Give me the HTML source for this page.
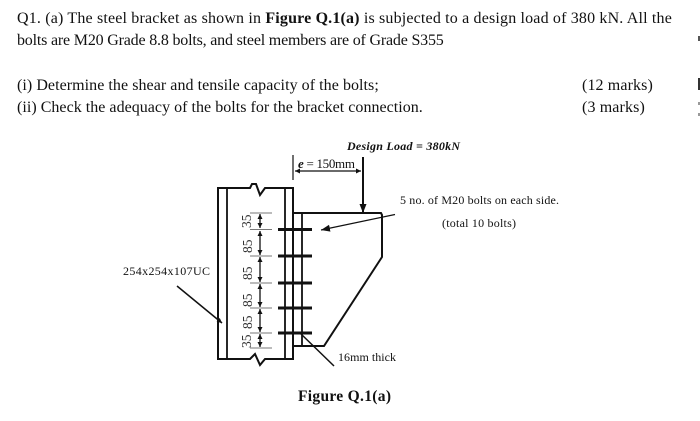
<!DOCTYPE html>
<html>
<head>
<meta charset="utf-8">
<style>
html,body{margin:0;padding:0;background:#fff;}
svg{display:block;filter:blur(0.3px);}
text{font-family:"Liberation Serif",serif;fill:#111;}
.q{font-size:16px;letter-spacing:0.2px;}
.s{font-size:12px;}
.n{font-size:13.500px;fill:#333;}
</style>
</head>
<body>
<svg width="700" height="421" viewBox="0 0 700 421" xmlns="http://www.w3.org/2000/svg">
<defs>
<marker id="a" markerWidth="6" markerHeight="6" refX="5" refY="2.500" orient="auto-start-reverse" markerUnits="userSpaceOnUse"><path d="M0 0L5 2.500L0 5Z" fill="#111"/></marker>
<marker id="b" markerWidth="10" markerHeight="8" refX="9" refY="3.500" orient="auto" markerUnits="userSpaceOnUse"><path d="M0 0L9 3.500L0 7Z" fill="#111"/></marker>
</defs>
<rect width="700" height="421" fill="#fff"/>

<text class="q" x="17" y="23" textLength="655" lengthAdjust="spacing">Q1. (a) The steel bracket as shown in <tspan font-weight="bold">Figure Q.1(a)</tspan> is subjected to a design load of 380 kN. All the</text>
<text class="q" x="17" y="45" textLength="427" lengthAdjust="spacing">bolts are M20 Grade 8.8 bolts, and steel members are of Grade S355</text>
<text class="q" x="17" y="90" textLength="362" lengthAdjust="spacing">(i) Determine the shear and tensile capacity of the bolts;</text>
<text class="q" x="17" y="112" textLength="406" lengthAdjust="spacing">(ii) Check the adequacy of the bolts for the bracket connection.</text>
<text class="q" x="582" y="90" textLength="71" lengthAdjust="spacing">(12 marks)</text>
<text class="q" x="582" y="112" textLength="63" lengthAdjust="spacing">(3 marks)</text>

<rect x="698" y="36" width="2" height="5" fill="#555"/>
<rect x="698" y="78" width="2" height="12" fill="#333"/>
<rect x="698" y="102" width="2" height="3" fill="#999"/>
<rect x="698" y="113" width="2" height="3" fill="#999"/>

<text x="347" y="150" font-size="12" font-weight="bold" font-style="italic" textLength="113" lengthAdjust="spacing">Design Load = 380kN</text>
<text x="298" y="168" font-size="13" textLength="57" lengthAdjust="spacing"><tspan font-style="italic" font-weight="bold">e</tspan> = 150mm</text>
<text class="s" x="400" y="204" textLength="159" lengthAdjust="spacing">5 no. of M20 bolts on each side.</text>
<text class="s" x="442" y="227" textLength="74" lengthAdjust="spacing">(total 10 bolts)</text>
<text class="s" x="123" y="275" textLength="87" lengthAdjust="spacing">254x254x107UC</text>
<text class="s" x="338" y="361" textLength="58" lengthAdjust="spacing">16mm thick</text>
<text x="298" y="401" font-size="15.500" font-weight="bold" textLength="93" lengthAdjust="spacing">Figure Q.1(a)</text>

<g fill="none" stroke="#111" stroke-width="1.800">
<path d="M293 155V180" stroke-width="1.200"/>
<path d="M295 171H361" stroke-width="1.200" marker-start="url(#a)" marker-end="url(#a)"/>
<path d="M363 157V213" stroke-width="2" marker-end="url(#b)"/>

<path d="M218 359V188H250L252 184L256 184L260 195L265 188H293V359H265L260 365L255 354L250 359Z" stroke-width="2"/>
<path d="M227 188V359"/>
<path d="M285 188V359"/>
<path d="M293 213H381L382 215V257L324 346H293" stroke-width="2"/>
<path d="M302 213V346"/>

<path d="M278 229.500H312M278 256H312M278 283H312M278 308H312M278 333H312" stroke-width="3"/>

<path d="M250 213H272M250 229.500H272M250 256H272M250 283H272M250 308H272M250 333H272M250 348H272" stroke="#777" stroke-width="1.100"/>
<path d="M260 214V228" stroke-width="1.300" marker-start="url(#a)" marker-end="url(#a)"/>
<path d="M260 231V255" stroke-width="1.300" marker-start="url(#a)" marker-end="url(#a)"/>
<path d="M260 257V282" stroke-width="1.300" marker-start="url(#a)" marker-end="url(#a)"/>
<path d="M260 284V307" stroke-width="1.300" marker-start="url(#a)" marker-end="url(#a)"/>
<path d="M260 309V332" stroke-width="1.300" marker-start="url(#a)" marker-end="url(#a)"/>
<path d="M260 334V347" stroke-width="1.300" marker-start="url(#a)" marker-end="url(#a)"/>

<path d="M395 214.500L321 230" stroke-width="1.300" marker-end="url(#b)"/>
<path d="M177 286L222 323" stroke-width="1.500" marker-end="url(#a)"/>
<path d="M334 366L300 333" stroke-width="1.500"/>
</g>

<text class="n" transform="translate(251,228) rotate(-90)">35</text>
<text class="n" transform="translate(252,253) rotate(-90)">85</text>
<text class="n" transform="translate(252,280) rotate(-90)">85</text>
<text class="n" transform="translate(252,307) rotate(-90)">85</text>
<text class="n" transform="translate(252,329) rotate(-90)">85</text>
<text class="n" transform="translate(251,348) rotate(-90)">35</text>
</svg>
</body>
</html>
